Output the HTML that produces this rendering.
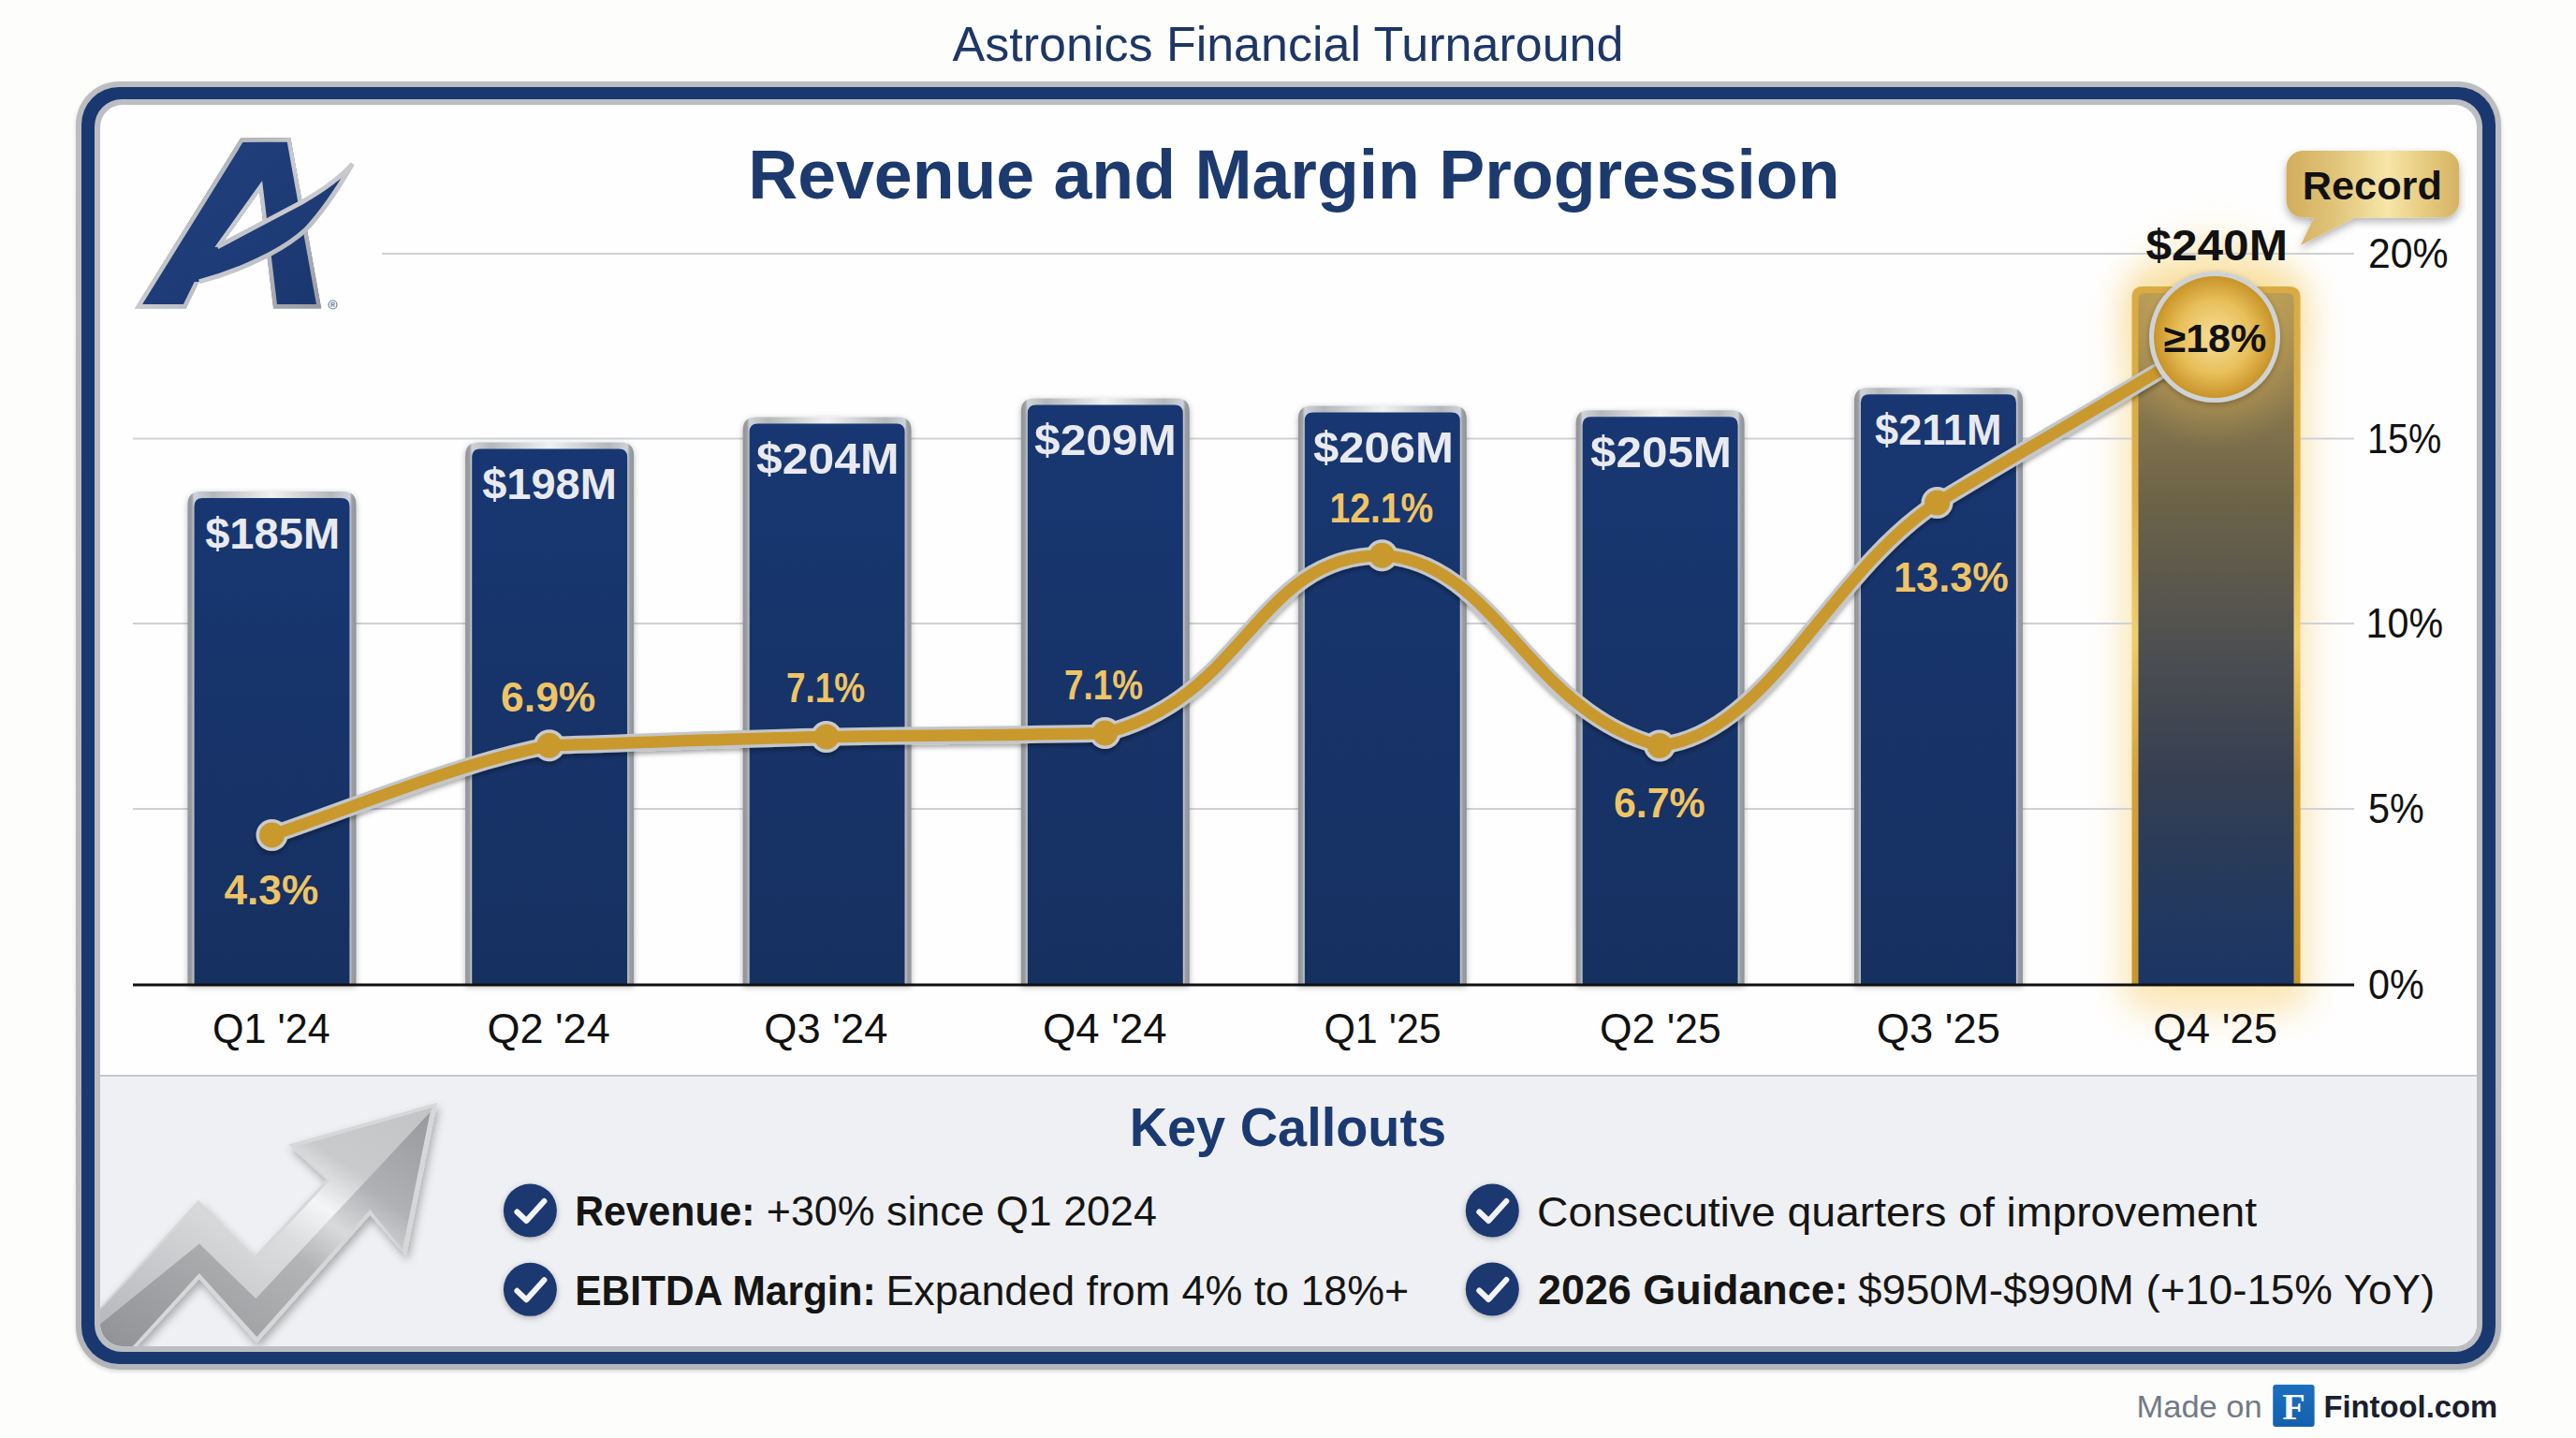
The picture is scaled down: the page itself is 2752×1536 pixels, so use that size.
<!DOCTYPE html>
<html>
<head>
<meta charset="utf-8">
<style>
html,body{margin:0;padding:0;}
body{width:2752px;height:1536px;overflow:hidden;background:#fdfdfb;position:relative;font-family:"Liberation Sans",sans-serif;}
.abs{position:absolute;}
#title{position:absolute;left:0;width:2752px;top:17px;text-align:center;font-size:52px;color:#1d3766;line-height:60px;}
#f1{position:absolute;left:81px;top:87px;width:2591px;height:1376px;border-radius:46px;background:linear-gradient(180deg,#bbbdc0,#b3b5b9);box-shadow:0 2px 4px rgba(0,0,0,0.15);}
#f2{position:absolute;left:6px;top:6px;right:6px;bottom:6px;border-radius:40px;background:#1a3870;}
#f3{position:absolute;left:14px;top:13px;right:14px;bottom:13px;border-radius:29px;background:#bcbec2;}
#f4{position:absolute;left:6px;top:6px;right:6px;bottom:6px;border-radius:24px;background:#fefefe;overflow:hidden;}
#callbg{position:absolute;left:0;right:0;top:1036px;bottom:0;background:#eff0f3;border-top:2px solid #c6c8cc;}
svg text{font-family:"Liberation Sans",sans-serif;}
</style>
</head>
<body>
<div id="title">Astronics Financial Turnaround</div>
<div id="f1"><div id="f2"><div id="f3"><div id="f4"><div id="callbg"></div><svg style="position:absolute;left:-107px;top:-112px" width="2752" height="1536" viewBox="0 0 2752 1536">
<defs>
<linearGradient id="arL" x1="0" x2="1" y1="1" y2="0"><stop offset="0" stop-color="#b5b6b9"/><stop offset="0.5" stop-color="#dcdddf"/><stop offset="0.62" stop-color="#f4f5f6"/><stop offset="0.75" stop-color="#c9cacc"/><stop offset="1" stop-color="#c3c4c6"/></linearGradient>
<linearGradient id="arD" x1="0" x2="1" y1="1" y2="0"><stop offset="0" stop-color="#8f9093"/><stop offset="0.5" stop-color="#b3b4b6"/><stop offset="0.62" stop-color="#d9dadc"/><stop offset="0.75" stop-color="#b0b1b4"/><stop offset="1" stop-color="#98999c"/></linearGradient>
<filter id="arSh" x="-20%" y="-20%" width="140%" height="140%"><feDropShadow dx="2" dy="5" stdDeviation="5" flood-color="#000" flood-opacity="0.3"/></filter>
</defs>
<g filter="url(#arSh)">
<path d="M90,1410 L106.9,1395.9 L211.9,1281.9 L272,1341.4 L348.7,1260.1 L308.1,1222.4 L467.2,1177.8 L433.9,1341.4 L395.3,1297.8 L274.4,1434.5 L212.9,1366.1 L140,1445 L90,1445 Z" fill="#d6d7d9"/>
</g>
<path d="M90,1410 L106.9,1399 L211.9,1287 L272,1347 L352,1261 L315,1225 L462,1183 L459.7,1187.8 L273.4,1387 L212.9,1328.5 L100,1420 Z" fill="url(#arL)"/>
<path d="M459.7,1187.8 L430,1335 L395.3,1292 L274.4,1428 L212.9,1360 L140,1440 L90,1440 L100,1420 L212.9,1328.5 L273.4,1387 Z" fill="url(#arD)"/>
</svg></div></div></div></div>
<svg class="abs" style="left:0;top:0" width="2752" height="1536" viewBox="0 0 2752 1536">
<defs>
<linearGradient id="silverH" x1="0" x2="1" y1="0" y2="0">
<stop offset="0" stop-color="#8f9296"/><stop offset="0.025" stop-color="#9c9fa3"/><stop offset="0.039" stop-color="#cfd3d9"/><stop offset="0.15" stop-color="#b4b7bb"/><stop offset="0.5" stop-color="#f0f1f2"/><stop offset="0.85" stop-color="#b4b7bb"/><stop offset="0.961" stop-color="#cfd3d9"/><stop offset="0.975" stop-color="#9c9fa3"/><stop offset="1" stop-color="#8f9296"/>
</linearGradient>
<linearGradient id="navyV" x1="0" x2="0" y1="0" y2="1">
<stop offset="0" stop-color="#183772"/><stop offset="1" stop-color="#163060"/>
</linearGradient>
<linearGradient id="goldBar" x1="0" x2="0" y1="0" y2="1">
<stop offset="0" stop-color="#b49b58"/><stop offset="0.12" stop-color="#8f7c4f"/><stop offset="0.3" stop-color="#6c6348"/><stop offset="0.5" stop-color="#4f5050"/><stop offset="0.7" stop-color="#363f52"/><stop offset="0.85" stop-color="#253a5c"/><stop offset="1" stop-color="#1b3565"/>
</linearGradient>
<linearGradient id="goldFrame" x1="0" x2="0" y1="0" y2="1">
<stop offset="0" stop-color="#d9ab42"/><stop offset="0.3" stop-color="#dcb04a"/><stop offset="0.5" stop-color="#f0cf6c"/><stop offset="0.7" stop-color="#d4a23a"/><stop offset="1" stop-color="#c8962a"/>
</linearGradient>
<radialGradient id="goldCircle" cx="0.5" cy="0.5" r="0.5">
<stop offset="0" stop-color="#f7df9c"/><stop offset="0.6" stop-color="#e8bf5a"/><stop offset="1" stop-color="#c89428"/>
</radialGradient>
<radialGradient id="innerGlow" cx="0.5" cy="0.5" r="0.5"><stop offset="0" stop-color="#e2bd62" stop-opacity="0.9"/><stop offset="0.6" stop-color="#c9a552" stop-opacity="0.45"/><stop offset="1" stop-color="#b49b58" stop-opacity="0"/></radialGradient>
<linearGradient id="bubble" x1="0" x2="1" y1="0" y2="0">
<stop offset="0" stop-color="#d2ad5c"/><stop offset="0.3" stop-color="#e2c67c"/><stop offset="0.58" stop-color="#f7e6a8"/><stop offset="0.8" stop-color="#e6cb80"/><stop offset="1" stop-color="#d6b262"/>
</linearGradient>
<linearGradient id="logoNavy" x1="0" x2="1" y1="0" y2="1">
<stop offset="0" stop-color="#22427f"/><stop offset="1" stop-color="#1a366f"/>
</linearGradient>
<linearGradient id="logoSilver" x1="0" x2="1" y1="0" y2="1">
<stop offset="0" stop-color="#94979c"/><stop offset="0.5" stop-color="#c9cbcf"/><stop offset="1" stop-color="#979a9f"/>
</linearGradient>
<linearGradient id="fblue" x1="0" x2="0" y1="0" y2="1"><stop offset="0" stop-color="#1b6fc0"/><stop offset="1" stop-color="#1461ae"/></linearGradient>
<filter id="sh" x="-20%" y="-20%" width="140%" height="140%"><feDropShadow dx="0" dy="2" stdDeviation="3" flood-color="#000" flood-opacity="0.28"/></filter>
<filter id="shL" x="-5%" y="-20%" width="110%" height="140%"><feDropShadow dx="0" dy="3" stdDeviation="2.5" flood-color="#000" flood-opacity="0.35"/></filter>
<filter id="shB" x="-20%" y="-30%" width="140%" height="170%"><feDropShadow dx="0" dy="4" stdDeviation="4" flood-color="#000" flood-opacity="0.3"/></filter>
<filter id="glowF" x="-100%" y="-50%" width="300%" height="200%"><feGaussianBlur stdDeviation="18"/></filter>
</defs>
<g transform="translate(130,130)">
<clipPath id="aclip"><path d="M14,199.5 L127,17.5 L180.5,17 L213.3,199.5 L162,199.5 L147,75 L92,152 L68.7,199.5 Z"/></clipPath>
<path d="M14,199.5 L127,17.5 L180.5,17 L213.3,199.5 L162,199.5 L147,75 L92,152 L68.7,199.5 Z" fill="url(#logoNavy)" stroke="url(#logoSilver)" stroke-width="9" stroke-linejoin="miter" clip-path="url(#aclip)"/>
<path d="M102.2,133.7 C132,118 162,102 191.5,86.5 C210,76 232,62 246.6,44.9 C232,70 214,97 196,115.9 C172,138 125,160 82.7,170.9 L72,171 L85,135 Z" fill="url(#logoNavy)"/>
<path d="M102.2,133.7 C132,118 162,102 191.5,86.5 C210,76 232,62 246.6,44.9 C232,70 214,97 196,115.9 C172,138 125,160 82.7,170.9" fill="none" stroke="url(#logoSilver)" stroke-width="5" stroke-linejoin="miter"/>
<circle cx="225.5" cy="195.5" r="4.5" fill="#fff" stroke="#6c7c9c" stroke-width="1.2"/>
<text x="225.5" y="198.3" text-anchor="middle" font-size="7" font-weight="700" fill="#6c7c9c">R</text>
</g>
<text x="799.2" y="211.5" font-size="73.4" font-weight="700" fill="#1d3a6e" textLength="1166.4" lengthAdjust="spacingAndGlyphs">Revenue and Margin Progression</text>
<rect x="2267.5" y="290" width="200" height="792" rx="30" fill="#f8d27a" opacity="0.55" filter="url(#glowF)"/>
<circle cx="2366" cy="340" r="90" fill="#f8d67e" opacity="0.45" filter="url(#glowF)"/>
<g stroke="#cfd1d6" stroke-width="2.2">
<line x1="408" y1="271" x2="2515" y2="271"/>
<line x1="142" y1="468.5" x2="2515" y2="468.5"/>
<line x1="142" y1="666" x2="2515" y2="666"/>
<line x1="142" y1="864" x2="2515" y2="864"/>
</g>
<path d="M200.5,1052 L200.5,539 Q200.5,525 214.5,525 L366.5,525 Q380.5,525 380.5,539 L380.5,1052 Z" fill="url(#silverH)" filter="url(#sh)"/>
<path d="M207.5,1052 L207.5,541 Q207.5,532 216.5,532 L364.5,532 Q373.5,532 373.5,541 L373.5,1052 Z" fill="url(#navyV)"/>
<path d="M497.20000000000005,1052 L497.20000000000005,486.5 Q497.20000000000005,472.5 511.20000000000005,472.5 L663.2,472.5 Q677.2,472.5 677.2,486.5 L677.2,1052 Z" fill="url(#silverH)" filter="url(#sh)"/>
<path d="M504.20000000000005,1052 L504.20000000000005,488.5 Q504.20000000000005,479.5 513.2,479.5 L661.2,479.5 Q670.2,479.5 670.2,488.5 L670.2,1052 Z" fill="url(#navyV)"/>
<path d="M793.6,1052 L793.6,459.5 Q793.6,445.5 807.6,445.5 L959.6,445.5 Q973.6,445.5 973.6,459.5 L973.6,1052 Z" fill="url(#silverH)" filter="url(#sh)"/>
<path d="M800.6,1052 L800.6,461.5 Q800.6,452.5 809.6,452.5 L957.6,452.5 Q966.6,452.5 966.6,461.5 L966.6,1052 Z" fill="url(#navyV)"/>
<path d="M1090.8,1052 L1090.8,439.4 Q1090.8,425.4 1104.8,425.4 L1256.8,425.4 Q1270.8,425.4 1270.8,439.4 L1270.8,1052 Z" fill="url(#silverH)" filter="url(#sh)"/>
<path d="M1097.8,1052 L1097.8,441.4 Q1097.8,432.4 1106.8,432.4 L1254.8,432.4 Q1263.8,432.4 1263.8,441.4 L1263.8,1052 Z" fill="url(#navyV)"/>
<path d="M1386.8,1052 L1386.8,447.4 Q1386.8,433.4 1400.8,433.4 L1552.8,433.4 Q1566.8,433.4 1566.8,447.4 L1566.8,1052 Z" fill="url(#silverH)" filter="url(#sh)"/>
<path d="M1393.8,1052 L1393.8,449.4 Q1393.8,440.4 1402.8,440.4 L1550.8,440.4 Q1559.8,440.4 1559.8,449.4 L1559.8,1052 Z" fill="url(#navyV)"/>
<path d="M1683.6,1052 L1683.6,452.2 Q1683.6,438.2 1697.6,438.2 L1849.6,438.2 Q1863.6,438.2 1863.6,452.2 L1863.6,1052 Z" fill="url(#silverH)" filter="url(#sh)"/>
<path d="M1690.6,1052 L1690.6,454.2 Q1690.6,445.2 1699.6,445.2 L1847.6,445.2 Q1856.6,445.2 1856.6,454.2 L1856.6,1052 Z" fill="url(#navyV)"/>
<path d="M1980.9,1052 L1980.9,428.3 Q1980.9,414.3 1994.9,414.3 L2146.9,414.3 Q2160.9,414.3 2160.9,428.3 L2160.9,1052 Z" fill="url(#silverH)" filter="url(#sh)"/>
<path d="M1987.9,1052 L1987.9,430.3 Q1987.9,421.3 1996.9,421.3 L2144.9,421.3 Q2153.9,421.3 2153.9,430.3 L2153.9,1052 Z" fill="url(#navyV)"/>
<path d="M2277.5,1052 L2277.5,318 Q2277.5,306 2289.5,306 L2445.5,306 Q2457.5,306 2457.5,318 L2457.5,1052 Z" fill="url(#goldFrame)"/>
<path d="M2284.5,1052 L2284.5,320 Q2284.5,313 2291.5,313 L2443.5,313 Q2450.5,313 2450.5,320 L2450.5,1052 Z" fill="url(#goldBar)"/>
<clipPath id="q4clip"><path d="M2284.5,1052 L2284.5,320 Q2284.5,313 2291.5,313 L2443.5,313 Q2450.5,313 2450.5,320 L2450.5,1052 Z"/></clipPath>
<circle cx="2366" cy="360" r="120" fill="url(#innerGlow)" clip-path="url(#q4clip)"/>
<line x1="142" y1="1052" x2="2515" y2="1052" stroke="#111" stroke-width="3"/>
<text x="219.2" y="586.2" font-size="47" font-weight="700" fill="#e9eaf0" textLength="143.9" lengthAdjust="spacingAndGlyphs">$185M</text>
<text x="515.2" y="533" font-size="47" font-weight="700" fill="#e9eaf0" textLength="143.7" lengthAdjust="spacingAndGlyphs">$198M</text>
<text x="808.1" y="506" font-size="47" font-weight="700" fill="#e9eaf0" textLength="152.5" lengthAdjust="spacingAndGlyphs">$204M</text>
<text x="1105.1" y="486.2" font-size="47" font-weight="700" fill="#e9eaf0" textLength="151.6" lengthAdjust="spacingAndGlyphs">$209M</text>
<text x="1402.9" y="493.9" font-size="47" font-weight="700" fill="#e9eaf0" textLength="150.1" lengthAdjust="spacingAndGlyphs">$206M</text>
<text x="1699.0" y="498.7" font-size="47" font-weight="700" fill="#e9eaf0" textLength="151.0" lengthAdjust="spacingAndGlyphs">$205M</text>
<text x="2003.1" y="474.8" font-size="47" font-weight="700" fill="#e9eaf0" textLength="135.4" lengthAdjust="spacingAndGlyphs">$211M</text>
<text x="227.1" y="1114" font-size="44" fill="#111" textLength="125.6" lengthAdjust="spacingAndGlyphs">Q1 &#x27;24</text>
<text x="520.4" y="1114" font-size="44" fill="#111" textLength="131.3" lengthAdjust="spacingAndGlyphs">Q2 &#x27;24</text>
<text x="816.3" y="1114" font-size="44" fill="#111" textLength="132.1" lengthAdjust="spacingAndGlyphs">Q3 &#x27;24</text>
<text x="1113.9" y="1114" font-size="44" fill="#111" textLength="132.6" lengthAdjust="spacingAndGlyphs">Q4 &#x27;24</text>
<text x="1414.4" y="1114" font-size="44" fill="#111" textLength="125.4" lengthAdjust="spacingAndGlyphs">Q1 &#x27;25</text>
<text x="1709.0" y="1114" font-size="44" fill="#111" textLength="129.7" lengthAdjust="spacingAndGlyphs">Q2 &#x27;25</text>
<text x="2004.8" y="1114" font-size="44" fill="#111" textLength="132.1" lengthAdjust="spacingAndGlyphs">Q3 &#x27;25</text>
<text x="2300.3" y="1114" font-size="44" fill="#111" textLength="132.8" lengthAdjust="spacingAndGlyphs">Q4 &#x27;25</text>
<text x="2529.9" y="286" font-size="44" fill="#111" textLength="85.7" lengthAdjust="spacingAndGlyphs">20%</text>
<text x="2529.0" y="483.5" font-size="44" fill="#111" textLength="79.4" lengthAdjust="spacingAndGlyphs">15%</text>
<text x="2527.6" y="681" font-size="44" fill="#111" textLength="82.4" lengthAdjust="spacingAndGlyphs">10%</text>
<text x="2530.1" y="879" font-size="44" fill="#111" textLength="59.8" lengthAdjust="spacingAndGlyphs">5%</text>
<text x="2530.0" y="1067" font-size="44" fill="#111" textLength="59.7" lengthAdjust="spacingAndGlyphs">0%</text>
<g filter="url(#shL)">
<path d="M290.5,892 C389.2,858.4 488,816 586.7,796.3 C685.4,793.3 784.2,789.1 882.9,787 C982.1,784.9 1081.2,785.8 1180.5,783 C1332.5,745 1342.5,593 1476.5,593.3 C1598.5,599.4 1633,761.5 1773,796.5 C1889,784.9 1953.5,612.4 2069.5,537 C2168.3,476.5 2270,420 2366,360" fill="none" stroke="#c3c6ca" stroke-width="19" stroke-linecap="round"/>
<circle cx="290.5" cy="892" r="17" fill="#c8cbcf"/>
<circle cx="586.7" cy="796.3" r="17" fill="#c8cbcf"/>
<circle cx="882.9" cy="787" r="17" fill="#c8cbcf"/>
<circle cx="1180.5" cy="783" r="17" fill="#c8cbcf"/>
<circle cx="1476.5" cy="593.3" r="17" fill="#c8cbcf"/>
<circle cx="1773" cy="796.5" r="17" fill="#c8cbcf"/>
<circle cx="2069.5" cy="537" r="17" fill="#c8cbcf"/>
</g>
<path d="M290.5,892 C389.2,858.4 488,816 586.7,796.3 C685.4,793.3 784.2,789.1 882.9,787 C982.1,784.9 1081.2,785.8 1180.5,783 C1332.5,745 1342.5,593 1476.5,593.3 C1598.5,599.4 1633,761.5 1773,796.5 C1889,784.9 1953.5,612.4 2069.5,537 C2168.3,476.5 2270,420 2366,360" fill="none" stroke="#c9992d" stroke-width="12.5" stroke-linecap="round"/>
<circle cx="290.5" cy="892" r="13.5" fill="#c9992d"/>
<circle cx="586.7" cy="796.3" r="13.5" fill="#c9992d"/>
<circle cx="882.9" cy="787" r="13.5" fill="#c9992d"/>
<circle cx="1180.5" cy="783" r="13.5" fill="#c9992d"/>
<circle cx="1476.5" cy="593.3" r="13.5" fill="#c9992d"/>
<circle cx="1773" cy="796.5" r="13.5" fill="#c9992d"/>
<circle cx="2069.5" cy="537" r="13.5" fill="#c9992d"/>
<text x="239.5" y="965.8" font-size="45" font-weight="700" fill="#efc465" textLength="100.7" lengthAdjust="spacingAndGlyphs">4.3%</text>
<text x="535.1" y="759.6" font-size="45" font-weight="700" fill="#efc465" textLength="101.3" lengthAdjust="spacingAndGlyphs">6.9%</text>
<text x="839.9" y="750" font-size="45" font-weight="700" fill="#efc465" textLength="84.2" lengthAdjust="spacingAndGlyphs">7.1%</text>
<text x="1136.9" y="746.9" font-size="45" font-weight="700" fill="#efc465" textLength="84.2" lengthAdjust="spacingAndGlyphs">7.1%</text>
<text x="1420.4" y="557.5" font-size="45" font-weight="700" fill="#efc465" textLength="110.9" lengthAdjust="spacingAndGlyphs">12.1%</text>
<text x="1724.0" y="872.7" font-size="45" font-weight="700" fill="#efc465" textLength="97.7" lengthAdjust="spacingAndGlyphs">6.7%</text>
<text x="2023.0" y="632" font-size="45" font-weight="700" fill="#efc465" textLength="122.9" lengthAdjust="spacingAndGlyphs">13.3%</text>
<circle cx="2366" cy="360" r="70" fill="#cfd2d6" filter="url(#sh)"/>
<circle cx="2366" cy="360" r="65" fill="url(#goldCircle)"/>
<text x="2311.5" y="376" font-size="42" font-weight="700" fill="#111" textLength="109.9" lengthAdjust="spacingAndGlyphs">≥18%</text>
<text x="2292.5" y="278.4" font-size="45.5" font-weight="700" fill="#111" textLength="151.4" lengthAdjust="spacingAndGlyphs">$240M</text>
<path d="M2460.6,161 H2609.3 A18,18 0 0 1 2627.3,179 V214.4 A18,18 0 0 1 2609.3,232.4 H2516 L2458,261.8 L2472,232.4 H2460.6 A18,18 0 0 1 2442.6,214.4 V179 A18,18 0 0 1 2460.6,161 Z" fill="url(#bubble)" filter="url(#shB)"/>
<text x="2459.8" y="213" font-size="43" font-weight="700" fill="#111" textLength="149.1" lengthAdjust="spacingAndGlyphs">Record</text>
<text x="1206.7" y="1224.2" font-size="58" font-weight="700" fill="#1b3a72" textLength="338.5" lengthAdjust="spacingAndGlyphs">Key Callouts</text>
<circle cx="566.4" cy="1293" r="28.5" fill="#1b3870" filter="url(#sh)"/>
<path d="M552.4,1294.5 L562.4,1304 L581.4,1283" fill="none" stroke="#f2f3f5" stroke-width="6" stroke-linecap="round" stroke-linejoin="round"/>
<circle cx="566.4" cy="1377.3" r="28.5" fill="#1b3870" filter="url(#sh)"/>
<path d="M552.4,1378.8 L562.4,1388.3 L581.4,1367.3" fill="none" stroke="#f2f3f5" stroke-width="6" stroke-linecap="round" stroke-linejoin="round"/>
<circle cx="1594.3" cy="1293" r="28.5" fill="#1b3870" filter="url(#sh)"/>
<path d="M1580.3,1294.5 L1590.3,1304 L1609.3,1283" fill="none" stroke="#f2f3f5" stroke-width="6" stroke-linecap="round" stroke-linejoin="round"/>
<circle cx="1594.3" cy="1377" r="28.5" fill="#1b3870" filter="url(#sh)"/>
<path d="M1580.3,1378.5 L1590.3,1388 L1609.3,1367" fill="none" stroke="#f2f3f5" stroke-width="6" stroke-linecap="round" stroke-linejoin="round"/>
<text x="614.2" y="1309.4" font-size="44" font-weight="700" fill="#151515" textLength="192.3" lengthAdjust="spacingAndGlyphs">Revenue:</text>
<text x="818.8" y="1309.4" font-size="44" fill="#151515" textLength="417.0" lengthAdjust="spacingAndGlyphs">+30% since Q1 2024</text>
<text x="614.2" y="1394.2" font-size="44" font-weight="700" fill="#151515" textLength="321.5" lengthAdjust="spacingAndGlyphs">EBITDA Margin:</text>
<text x="946.4" y="1394.2" font-size="44" fill="#151515" textLength="558.8" lengthAdjust="spacingAndGlyphs">Expanded from 4% to 18%+</text>
<text x="1642.0" y="1309.6" font-size="44" fill="#151515" textLength="769.1" lengthAdjust="spacingAndGlyphs">Consecutive quarters of improvement</text>
<text x="1643.0" y="1393" font-size="44" font-weight="700" fill="#151515" textLength="331.6" lengthAdjust="spacingAndGlyphs">2026 Guidance:</text>
<text x="1985.1" y="1393" font-size="44" fill="#151515" textLength="616.1" lengthAdjust="spacingAndGlyphs">$950M-$990M (+10-15% YoY)</text>
<text x="2282.5" y="1513.8" font-size="33" fill="#737a86" textLength="134.2" lengthAdjust="spacingAndGlyphs">Made on</text>
<rect x="2428.2" y="1479" width="44.4" height="45" rx="3" fill="url(#fblue)"/>
<text x="2450.4" y="1516" text-anchor="middle" style="font-family:'Liberation Serif',serif" font-weight="700" font-size="40" fill="#fff">F</text>
<text x="2482.5" y="1513.8" font-size="33" font-weight="700" fill="#1a1f2e" textLength="185.6" lengthAdjust="spacingAndGlyphs">Fintool.com</text>
</svg>
</body>
</html>
